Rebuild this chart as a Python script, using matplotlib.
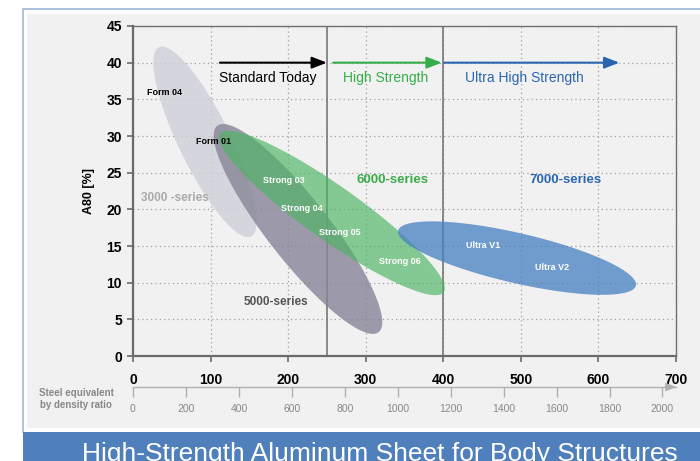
import numpy as np
import matplotlib
matplotlib.use("Agg")
import matplotlib.pyplot as plt
from matplotlib.patches import Rectangle

plt.rcParams['font.family'] = ['Liberation Sans', 'DejaVu Sans']

# Axis ticks
x_ticks = [0, 100, 200, 300, 400, 500, 600, 700]
y_ticks = [0, 5, 10, 15, 20, 25, 30, 35, 40, 45]
steel_ticks = [0, 200, 400, 600, 800, 1000, 1200, 1400, 1600, 1800, 2000]
density_ratio = 2.93

# Alloy series ranges: ends of the long axis of each ellipse (x, A80)
series_names = ['3000 -series', '5000-series', '6000-series', '7000-series']
end1_x = [33.5, 108.7, 112.5, 341.8]
end1_y = [42.1, 31.4, 30.3, 17.1]
end2_x = [152.1, 316.7, 400.5, 648.3]
end2_y = [16.3, 3.25, 8.7, 9.6]
series_label_x = [54, 184, 334, 558]
series_label_y = [21.5, 7.3, 24.0, 24.0]

# Individual alloys
alloys = ['Form 04', 'Form 01', 'Strong 03', 'Strong 04', 'Strong 05', 'Strong 06', 'Ultra V1', 'Ultra V2']
alloy_x = [40, 104, 194, 217, 267, 344, 451, 540]
alloy_y = [35.9, 29.2, 23.9, 20.1, 16.8, 12.9, 15.0, 12.0]

# Strength classes
classes = ['Standard Today', 'High Strength', 'Ultra High Strength']
class_start = [112, 258, 401]
class_end = [250, 398, 627]
class_label_x = [174, 326, 505]


def ellipse_points(ax, p1, p2, width):
	# Build ellipse in screen space from the two tips, back to data coords
	a = ax.transData.transform(p1)
	b = ax.transData.transform(p2)
	c = (a + b) / 2
	d = b - a
	half = np.hypot(*d) / 2
	th = np.arctan2(d[1], d[0])
	t = np.linspace(0, 2 * np.pi, 300)
	xs = c[0] + half * np.cos(t) * np.cos(th) - width / 2 * np.sin(t) * np.sin(th)
	ys = c[1] + half * np.cos(t) * np.sin(th) + width / 2 * np.sin(t) * np.cos(th)
	return ax.transData.inverted().transform(np.column_stack([xs, ys]))


def main():
	fig = plt.figure(figsize=(7, 4.61), dpi=100)

	# Panel, border and banner
	fig.patches.append(Rectangle((27 / 700, 33 / 461), 1, 414 / 461, transform=fig.transFigure,
		facecolor='#f1f1f1', edgecolor='none', zorder=-2))
	fig.lines.append(plt.Line2D([23 / 700, 23 / 700, 1], [29 / 461, 452 / 461, 452 / 461],
		transform=fig.transFigure, color='#9cb6d8', lw=1.2, zorder=-2))
	fig.patches.append(Rectangle((23 / 700, 0), 1, 29 / 461, transform=fig.transFigure,
		facecolor='#4f80bc', edgecolor='none', zorder=-2))
	fig.text(0.543, 0.0, 'High-Strength Aluminum Sheet for Body Structures', color='white',
		fontsize=19, ha='center', va='baseline')

	ax = fig.add_axes([133 / 700, 105 / 461, 543 / 700, 330 / 461])
	ax.set_facecolor('none')
	ax.set_xlim(0, 700)
	ax.set_ylim(0, 45)
	ax.set_xticks(x_ticks)
	ax.set_yticks(y_ticks)
	ax.grid(True, color='#a0a0a0', linestyle=(0, (1, 2.5)), lw=0.9)
	ax.set_axisbelow(True)
	for s in ['left', 'bottom']:
		ax.spines[s].set_color('#6a6a6a')
		ax.spines[s].set_linewidth(1.6)
	for s in ['top', 'right']:
		ax.spines[s].set_color('#707070')
		ax.spines[s].set_linewidth(1.0)
	ax.tick_params(axis='x', direction='out', length=4, width=1.2, color='#6a6a6a', pad=8, labelsize=10)
	ax.tick_params(axis='y', direction='out', length=4, width=1.2, color='#6a6a6a', pad=4, labelsize=10)
	for lab in ax.get_xticklabels() + ax.get_yticklabels():
		lab.set_fontweight('bold')
	ax.set_ylabel('A80 [%]', fontweight='bold', fontsize=9, labelpad=8)

	# Class boundaries
	ax.axvline(250, color='#777777', lw=1.2, zorder=1)
	ax.axvline(400, color='#777777', lw=1.2, zorder=1)

	# Ellipses
	fills = [('#cfcfd9', 0.8), ('#878598', 0.8), ('#4cb462', 0.66), ('#4580c2', 0.75)]
	widths = [52, 62, 54, 50]
	for i in range(len(series_names)):
		pts = ellipse_points(ax, (end1_x[i], end1_y[i]), (end2_x[i], end2_y[i]), widths[i])
		ax.fill(pts[:, 0], pts[:, 1], color=fills[i][0], alpha=fills[i][1], lw=0, zorder=2 + i)

	# Series labels
	label_styles = [('#aaaaaa', 8.5), ('#555555', 8.5), ('#3aaa4a', 9.5), ('#2a66b0', 9.5)]
	for i, name in enumerate(series_names):
		ax.text(series_label_x[i], series_label_y[i], name, color=label_styles[i][0],
			fontsize=label_styles[i][1], fontweight='bold', ha='center', va='center', zorder=10)

	# Alloy labels
	for i, name in enumerate(alloys):
		col = 'black' if name.startswith('Form') else 'white'
		ax.text(alloy_x[i], alloy_y[i], name, color=col, fontsize=6.5, fontweight='bold',
			ha='center', va='center', zorder=10)

	# Strength class arrows
	class_colors = ['black', '#35ad48', '#2a66b0']
	for i, name in enumerate(classes):
		ax.annotate('', xy=(class_end[i], 40), xytext=(class_start[i], 40),
			arrowprops=dict(arrowstyle='-|>,head_length=0.9,head_width=0.35', color=class_colors[i],
				lw=1.5, shrinkA=0, shrinkB=0), zorder=10)
		ax.text(class_label_x[i], 37.9, name, color=class_colors[i], fontsize=10,
			ha='center', va='center', zorder=10)

	# Steel equivalent axis
	sec = ax.secondary_xaxis(-0.094, functions=(lambda x: x * density_ratio, lambda x: x / density_ratio))
	sec.set_xticks(steel_ticks)
	sec.spines['bottom'].set_color('#b0b0b0')
	sec.spines['bottom'].set_linewidth(1.0)
	sec.tick_params(direction='out', length=7.5, width=1.0, color='#b0b0b0', labelsize=7.5,
		labelcolor='#888888', pad=5)
	ax.annotate('', xy=(1.0, -0.094), xytext=(0.98, -0.094), xycoords='axes fraction',
		arrowprops=dict(arrowstyle='-|>,head_length=0.6,head_width=0.25', color='#b0b0b0', lw=1.0,
			shrinkA=0, shrinkB=0), annotation_clip=False)
	fig.text(76 / 700, 1 - 399 / 461, 'Steel equivalent\nby density ratio', color='#888888',
		fontsize=7, fontweight='bold', ha='center', va='center', linespacing=1.25)

	fig.savefig('out.png', dpi=100)


if __name__ == "__main__":
	main()
